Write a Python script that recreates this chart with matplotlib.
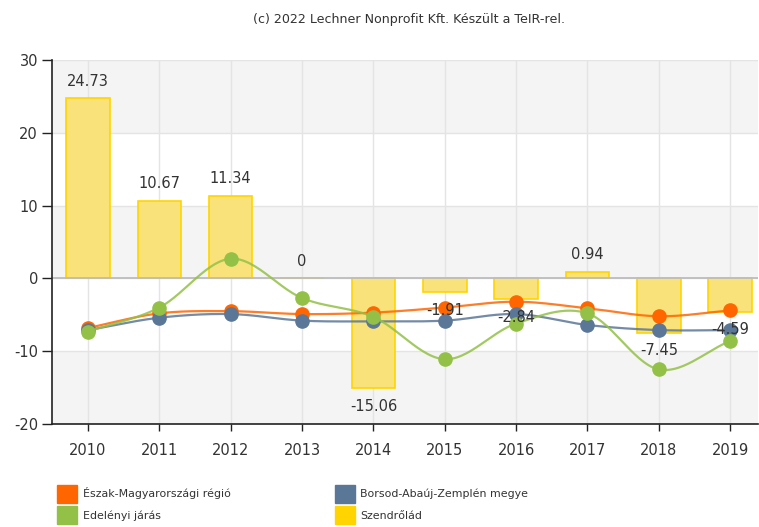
import numpy as np
import matplotlib
matplotlib.use("Agg")
import matplotlib.pyplot as plt
from matplotlib.patches import Patch

years = ["2010", "2011", "2012", "2013", "2014", "2015", "2016", "2017", "2018", "2019"]
szendrolad = [24.73, 10.67, 11.34, 0, -15.06, -1.91, -2.84, 0.94, -7.45, -4.59]
eszak = [-6.8, -4.8, -4.5, -4.9, -4.7, -4.0, -3.2, -4.1, -5.2, -4.4]
borsod = [-7.1, -5.4, -4.9, -5.8, -5.9, -5.8, -4.9, -6.4, -7.1, -7.1]
edelenyi = [-7.3, -4.0, 2.7, -2.7, -5.3, -11.1, -6.2, -4.8, -12.5, -8.6]
bar_labels = ["24.73", "10.67", "11.34", "0", "-15.06", "-1.91", "-2.84", "0.94", "-7.45", "-4.59"]
series_names = ["Észak-Magyarországi régió", "Borsod-Abaúj-Zemplén megye", "Edelényi járás", "Szendrőlád"]
yticks = [-20, -10, 0, 10, 20, 30]

C_OR = "#FF6600"
C_BL = "#5B7797"
C_GR = "#93C147"
C_YE = "#FFD400"
C_YE_FILL = "#F9E27A"
TXT = "#333333"

plt.rcParams['font.family'] = ['DejaVu Sans']
plt.rcParams['axes.unicode_minus'] = False

W, H = 759, 527
fig = plt.figure(figsize=(W / 100, H / 100), dpi=100)
ax = fig.add_axes([52 / W, 1 - 424 / H, (758 - 52) / W, (424 - 60) / H])

x = np.arange(len(years))
ax.set_xlim(-0.505, 9.39)
ax.set_ylim(-20, 30)

# alternating bands
for lo in [20, 0, -20]:
    ax.axhspan(lo, lo + 10, color="#F4F4F4", zorder=0, lw=0)
for yv in yticks:
    ax.axhline(yv, color="#E4E4E4", lw=1, zorder=0.5)
for xi in x:
    ax.axvline(xi, color="#E4E4E4", lw=1, zorder=0.5)

# bars
ax.bar(x, szendrolad, width=0.61, color=C_YE_FILL, edgecolor=C_YE, linewidth=1.2, zorder=2)
ax.axhline(0, color="#BDBDBD", lw=1.3, zorder=2.5)
for xi, v, lab in zip(x, szendrolad, bar_labels):
    off = 12.5 if v >= 0 else -13
    ax.annotate(lab, (xi, v), xytext=(0, off), textcoords="offset points",
                ha="center", va="center", fontsize=10.5, color=TXT, zorder=6)


def smooth(xs, ys, n=30, t=0.5):
    xs = np.asarray(xs, float)
    ys = np.asarray(ys, float)
    px, py = [], []
    m = len(xs)
    for i in range(m - 1):
        y0 = ys[i - 1] if i > 0 else ys[i]
        y3 = ys[i + 2] if i + 2 < m else ys[i + 1]
        y1, y2 = ys[i], ys[i + 1]
        m1 = t * (y2 - y0) / (2 if i > 0 else 1)
        m2 = t * (y3 - y1) / (2 if i + 2 < m else 1)
        s = np.linspace(0, 1, n)
        h00 = 2 * s**3 - 3 * s**2 + 1
        h10 = s**3 - 2 * s**2 + s
        h01 = -2 * s**3 + 3 * s**2
        h11 = s**3 - s**2
        px.append(xs[i] + s * (xs[i + 1] - xs[i]))
        py.append(h00 * y1 + h10 * m1 * 2 + h01 * y2 + h11 * m2 * 2)
    return np.concatenate(px), np.concatenate(py)


for vals, col, z in [(eszak, C_OR, 3), (borsod, C_BL, 3.2), (edelenyi, C_GR, 3.4)]:
    sx, sy = smooth(x, vals)
    ax.plot(sx, sy, color=col, lw=1.6, alpha=0.85, zorder=z)
    ax.plot(x, vals, ls="none", marker="o", ms=9.5, color=col, mec=col, zorder=z + 0.1)

ax.set_xticks(x)
ax.set_xticklabels(years)
ax.set_yticks(yticks)
ax.tick_params(axis="x", length=5, width=1, color="#222222", labelsize=10.5, labelcolor=TXT, pad=9)
ax.tick_params(axis="y", length=7, width=1, color="#222222", labelsize=10.5, labelcolor=TXT, pad=3)
for s in ["top", "right"]:
    ax.spines[s].set_visible(False)
for s in ["left", "bottom"]:
    ax.spines[s].set_color("#222222")
    ax.spines[s].set_linewidth(1.2)

fig.text(409 / W, 1 - 19.5 / H, "(c) 2022 Lechner Nonprofit Kft. Készült a TeIR-rel.",
         ha="center", va="center", fontsize=9.1, color=TXT)

colors = [C_OR, C_BL, C_GR, C_YE]
order = [0, 2, 1, 3]  # row-major filling for two columns
handles = [Patch(facecolor=colors[i], edgecolor=colors[i]) for i in order]
labels = [series_names[i] for i in order]
leg = fig.legend(handles, labels, ncol=2, loc="upper left",
                 bbox_to_anchor=(48 / W, 1 - 476 / H), frameon=False,
                 fontsize=7.9, handlelength=1.85, handleheight=2.2, handletextpad=0.5,
                 columnspacing=9.5, labelspacing=0.25, borderpad=0.3)
for t in leg.get_texts():
    t.set_color(TXT)

fig.savefig("out.png", dpi=100)
